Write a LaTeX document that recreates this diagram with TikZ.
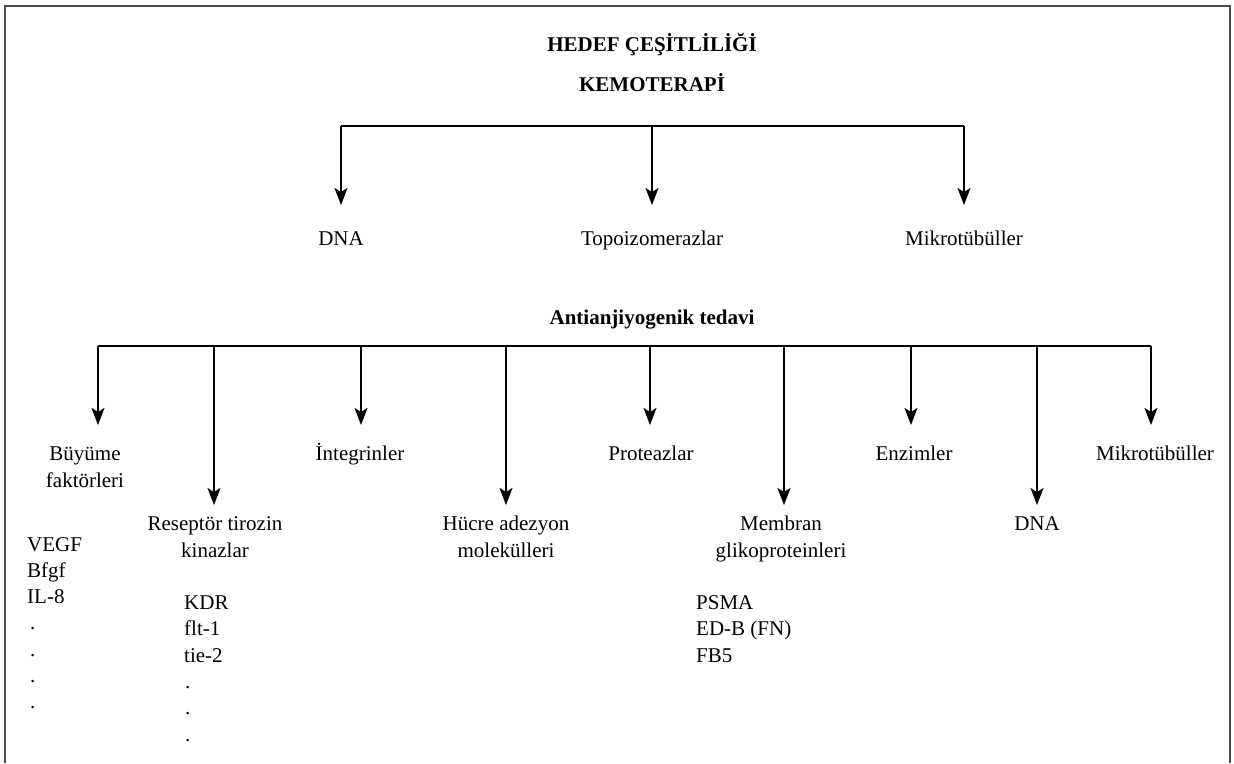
\documentclass[tikz,border=0pt]{standalone}
\usepackage{fontspec}
\setmainfont{Liberation Serif}
\usetikzlibrary{arrows.meta}
\begin{document}
\begin{tikzpicture}[x=1pt,y=-1pt,
  conn/.style={line width=2pt},
  arr/.style={line width=2pt,-{Stealth[length=17pt,width=13pt,inset=4pt]}},
  lbl/.style={anchor=base,align=center,font=\fontsize{21}{27}\selectfont,inner sep=0pt},
  lst/.style={anchor=base west,align=left,font=\fontsize{21}{26.3}\selectfont,inner sep=0pt},
  ttl/.style={anchor=base,font=\fontsize{21}{27}\selectfont\bfseries,inner sep=0pt}]
\useasboundingbox (0,0) rectangle (1234,763);
\draw[black!70,line width=1.2pt] (5,763) -- (5,6) -- (1230,6) -- (1230,763);

% titles
\node[ttl] (hedef) at (652,51) {HEDEF ÇEŞİTLİLİĞİ};
\node[ttl] (kemo) at (652,91) {KEMOTERAPİ};

% chemotherapy branch
\coordinate (kL) at (341,126);
\coordinate (kM) at (652,126);
\coordinate (kR) at (964,126);
\coordinate (kLt) at (341,205);
\coordinate (kMt) at (652,205);
\coordinate (kRt) at (964,205);
\draw[conn] (kL) -- (kR);
\draw[arr] (kL) -- (kLt);
\draw[arr] (kM) -- (kMt);
\draw[arr] (kR) -- (kRt);
\node[lbl] (dna1) at (341,245) {DNA};
\node[lbl] (topo) at (652,245) {Topoizomerazlar};
\node[lbl] (mik1) at (964,245) {Mikrotübüller};

% antiangiogenic branch
\node[ttl] (anti) at (652,324) {Antianjiyogenik tedavi};
\coordinate (a1) at (98,346);
\coordinate (a2) at (214,346);
\coordinate (a3) at (361,346);
\coordinate (a4) at (506,346);
\coordinate (a5) at (650,346);
\coordinate (a6) at (784,346);
\coordinate (a7) at (911,346);
\coordinate (a8) at (1037,346);
\coordinate (a9) at (1151,346);
\coordinate (a1t) at (98,425);
\coordinate (a2t) at (214,505);
\coordinate (a3t) at (361,425);
\coordinate (a4t) at (506,505);
\coordinate (a5t) at (650,425);
\coordinate (a6t) at (784,505);
\coordinate (a7t) at (911,425);
\coordinate (a8t) at (1037,505);
\coordinate (a9t) at (1151,425);
\draw[conn] (a1) -- (a9);
\foreach \i in {1,...,9} {\draw[arr] (a\i) -- (a\i t);}

% (multi-line nodes: base anchor is the baseline of the last line)
\node[lbl] (buy) at (85,487) {Büyüme\\faktörleri};
\node[lbl] (rtk) at (215,557) {Reseptör tirozin\\kinazlar};
\node[lbl] (int) at (360,460) {İntegrinler};
\node[lbl] (huc) at (506,557) {Hücre adezyon\\molekülleri};
\node[lbl] (pro) at (651,460) {Proteazlar};
\node[lbl] (mem) at (781,557) {Membran\\glikoproteinleri};
\node[lbl] (enz) at (914,460) {Enzimler};
\node[lbl] (dna2) at (1037,530) {DNA};
\node[lbl] (mik2) at (1155,460) {Mikrotübüller};

% lists
\node[lst] (l1) at (27,708.8) {VEGF\\Bfgf\\IL-8\\\hspace*{3pt}.\\\hspace*{3pt}.\\\hspace*{3pt}.\\\hspace*{3pt}.};
\node[lst] (l2) at (184,741) {KDR\\flt-1\\tie-2\\\hspace*{1pt}.\\\hspace*{1pt}.\\\hspace*{1pt}.};
\node[lst] (l3) at (696,662) {PSMA\\ED-B (FN)\\FB5};
\end{tikzpicture}
\end{document}
